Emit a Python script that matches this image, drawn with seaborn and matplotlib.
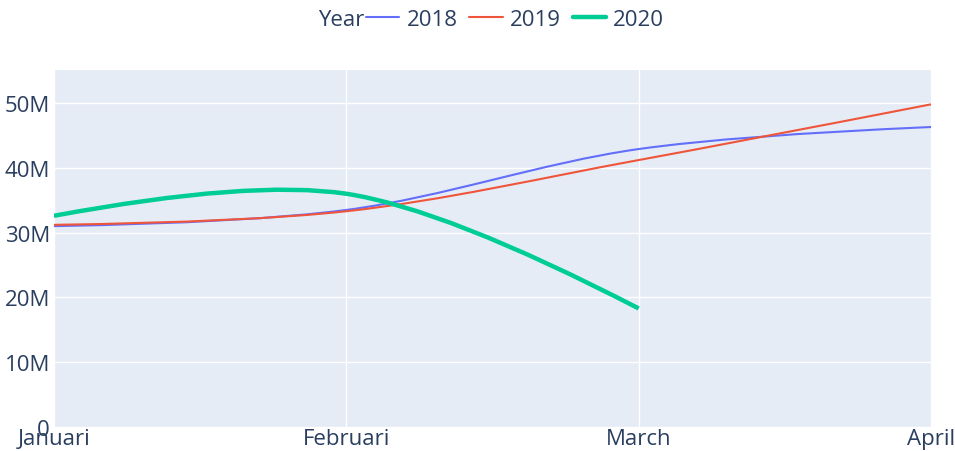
import numpy as np
import pandas as pd
import matplotlib
matplotlib.use('Agg')
import matplotlib.pyplot as plt
import seaborn as sns
from matplotlib.path import Path
from matplotlib.patches import PathPatch
from matplotlib.lines import Line2D
from matplotlib.ticker import FuncFormatter

# Data (monthly values)
months = ['Januari', 'Februari', 'March', 'April']
years = ['2018', '2019', '2020']
values_2018 = [31.0e6, 33.5e6, 42.9e6, 46.3e6]
values_2019 = [31.2e6, 33.3e6, 41.2e6, 49.8e6]
values_2020 = [32.6e6, 36.0e6, 18.3e6]

colors = {'2018': '#636EFA', '2019': '#EF553B', '2020': '#00CC96'}
widths = {'2018': 1.5, '2019': 1.5, '2020': 3.2}

rows = []
for yr, vals in zip(years, [values_2018, values_2019, values_2020]):
    for i, v in enumerate(vals):
        rows.append({'Year': yr, 'Month': months[i], 'idx': i, 'value': v})
df = pd.DataFrame(rows)

sns.set_theme(style='darkgrid', rc={
    'axes.facecolor': '#E5ECF6',
    'grid.color': 'white',
    'grid.linewidth': 1.0,
    'axes.edgecolor': 'none',
})
plt.rcParams['font.family'] = ['Open Sans', 'DejaVu Sans']
text_color = '#2a3f5f'
fs = 16

fig = plt.figure(figsize=(9.55, 4.52), dpi=100)
ax = fig.add_axes([54 / 955, 24 / 452, 877 / 955, 357 / 452])
ax.set_xlim(0, len(months) - 1)
ax.set_ylim(0, 55.1e6)


def spline_path(xs, ys, smoothness=1.0):
    # plotly-like spline smoothing, computed in pixel space
    pts = ax.transData.transform(np.column_stack([xs, ys]))
    n = len(pts)
    if n < 3:
        return Path(ax.transData.inverted().transform(pts))
    tangents = []
    for i in range(1, n - 1):
        p, t, q = pts[i - 1], pts[i], pts[i + 1]
        d1 = p - t
        d2 = q - t
        d1a = np.hypot(*d1) ** 0.5
        d2a = np.hypot(*d2) ** 0.5
        num = (d2a * d2a * d1 - d1a * d1a * d2) * smoothness
        den1 = 3 * d2a * (d1a + d2a)
        den2 = 3 * d1a * (d1a + d2a)
        tangents.append((t + num / den1, t - num / den2))
    verts = [pts[0], tangents[0][0], pts[1]]
    codes = [Path.MOVETO, Path.CURVE3, Path.CURVE3]
    for i in range(2, n - 1):
        verts += [tangents[i - 2][1], tangents[i - 1][0], pts[i]]
        codes += [Path.CURVE4] * 3
    verts += [tangents[n - 3][1], pts[n - 1]]
    codes += [Path.CURVE3] * 2
    verts = ax.transData.inverted().transform(np.array(verts))
    return Path(verts, codes)


for yr in years:
    sub = df[df['Year'] == yr]
    path = spline_path(sub['idx'].values, sub['value'].values)
    ax.add_patch(PathPatch(path, facecolor='none', edgecolor=colors[yr],
                           lw=widths[yr], capstyle='butt', zorder=3))

ax.set_xticks(range(len(months)))
ax.set_xticklabels(months)
ax.set_yticks(np.arange(0, 55e6, 10e6))
ax.yaxis.set_major_formatter(FuncFormatter(lambda v, p: '0' if v == 0 else f'{v / 1e6:.0f}M'))
ax.tick_params(axis='both', colors=text_color, labelsize=fs, length=0)
ax.tick_params(axis='x', pad=1)
ax.tick_params(axis='y', pad=3)
ax.set_xlabel('')
ax.set_ylabel('')
ax.grid(True, color='white', linewidth=1.0)
for s in ax.spines.values():
    s.set_visible(False)

# legend across the top
handles = [Line2D([0], [0], color=colors[yr], lw=widths[yr]) for yr in years]
fig.text(318 / 955, 1 - 20 / 452, 'Year', color=text_color, fontsize=fs,
         va='center', ha='left')
leg = fig.legend(handles, years, loc='center left', bbox_to_anchor=(366 / 955, 1 - 20 / 452),
                 ncol=3, frameon=False, fontsize=fs, handlelength=1.5,
                 handletextpad=0.32, columnspacing=0.54, borderpad=0, borderaxespad=0)
for t in leg.get_texts():
    t.set_color(text_color)

fig.savefig('out.png', dpi=100)
plt.close(fig)
